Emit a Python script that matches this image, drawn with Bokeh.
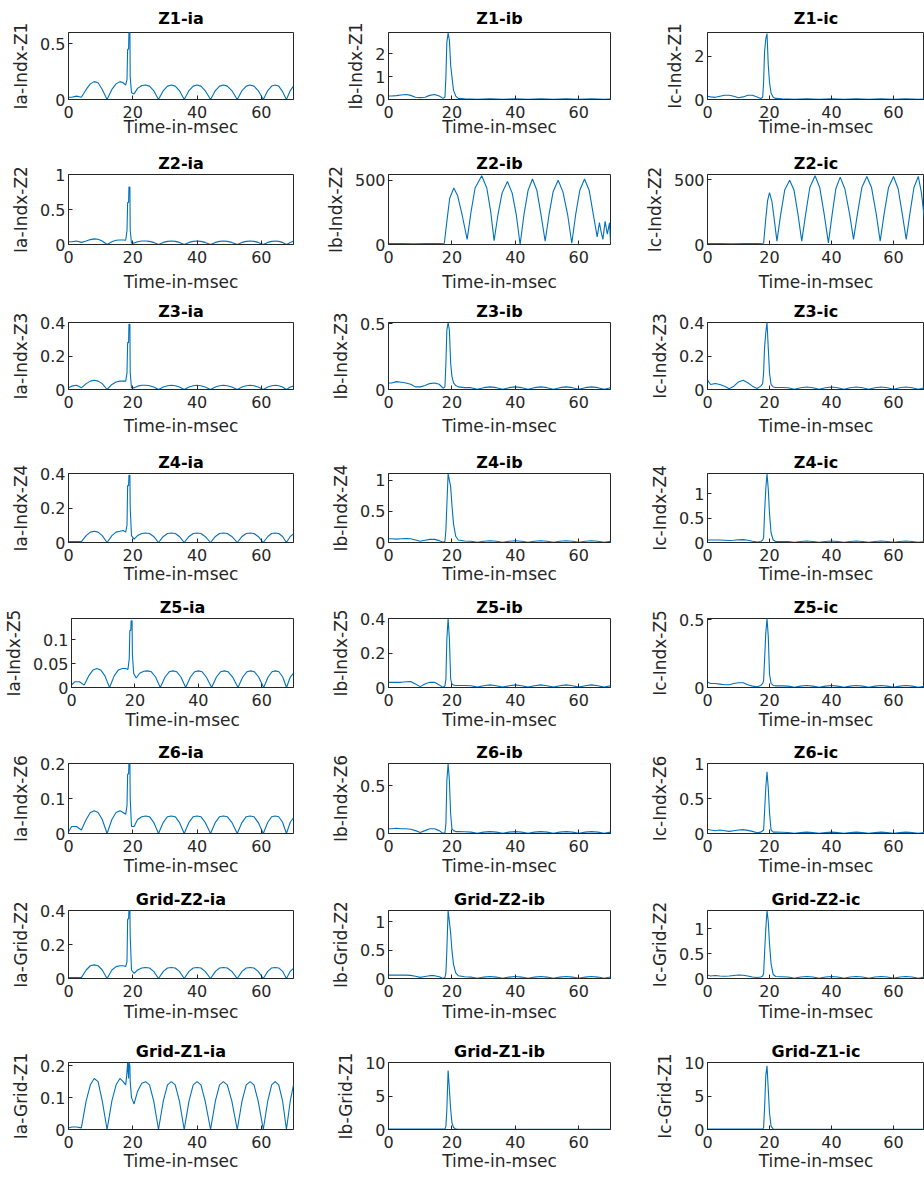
from bokeh.plotting import figure
from bokeh.layouts import column, row
from bokeh.models import Range1d, FixedTicker, CustomJSTickFormatter
from bokeh.embed import file_html
from bokeh.resources import INLINE

FONT = "DejaVu Sans"
LINE = "#0072BD"
AX = "#262626"

X_LABEL = "Time-in-msec"
X_TICKS = [0, 20, 40, 60]
X_MAX = 70

# ---------------- data: column "ia" (shared time base) ----------------
T_IA = [0, 1, 2.5, 4, 5.5, 6.8, 8, 9.2, 10.5, 12,
        13.5, 14.8, 16, 17, 17.8, 18.2, 18.4, 18.7, 18.8, 19.1,
        19.2, 19.6, 20.4, 21.5, 22.8, 24, 25.2, 26.5, 28, 29.5,
        30.8, 32, 33.2, 34.5, 36, 37.5, 38.8, 40, 41.2, 42.5,
        44.2, 45.7, 47, 48.2, 49.4, 50.8, 52.5, 54, 55.3, 56.5,
        57.7, 59, 60.6, 62, 63.2, 64.3, 65.4, 66.6, 67.8, 69,
        70]

Z1_IA = [0.02, 0.02, 0.03, 0.02, 0.09, 0.14, 0.16, 0.15, 0.09, 0.0,
         0.09, 0.14, 0.16, 0.15, 0.13, 0.18, 0.45, 0.45, 0.60, 0.60,
         0.20, 0.06, 0.05, 0.10, 0.125, 0.13, 0.12, 0.08, 0.0, 0.08,
         0.12, 0.13, 0.12, 0.08, 0.0, 0.08, 0.12, 0.13, 0.12, 0.08,
         0.0, 0.08, 0.12, 0.13, 0.12, 0.08, 0.0, 0.08, 0.12, 0.13,
         0.12, 0.08, 0.0, 0.08, 0.12, 0.13, 0.12, 0.07, 0.0, 0.08,
         0.12]
Z2_IA = [0.04, 0.04, 0.05, 0.03, 0.05, 0.07, 0.08, 0.075, 0.05, 0.0,
         0.04, 0.06, 0.065, 0.065, 0.06, 0.20, 0.60, 0.60, 0.82, 0.82,
         0.20, 0.02, 0.02, 0.04, 0.05, 0.05, 0.045, 0.03, 0.0, 0.03,
         0.045, 0.05, 0.045, 0.03, 0.0, 0.03, 0.045, 0.05, 0.045, 0.03,
         0.0, 0.03, 0.045, 0.05, 0.045, 0.03, 0.0, 0.03, 0.045, 0.05,
         0.045, 0.03, 0.0, 0.03, 0.045, 0.05, 0.045, 0.03, 0.0, 0.03,
         0.05]
Z3_IA = [0.01, 0.02, 0.025, 0.01, 0.035, 0.05, 0.055, 0.05, 0.035, 0.0,
         0.03, 0.045, 0.05, 0.05, 0.05, 0.10, 0.28, 0.28, 0.39, 0.39,
         0.10, 0.01, 0.01, 0.02, 0.025, 0.025, 0.022, 0.015, 0.0, 0.015,
         0.022, 0.025, 0.022, 0.015, 0.0, 0.015, 0.022, 0.025, 0.022, 0.015,
         0.0, 0.015, 0.022, 0.025, 0.022, 0.015, 0.0, 0.015, 0.022, 0.025,
         0.022, 0.015, 0.0, 0.015, 0.022, 0.025, 0.022, 0.015, 0.0, 0.015,
         0.02]
Z4_IA = [0.005, 0.005, 0.005, 0.005, 0.04, 0.06, 0.065, 0.06, 0.04, 0.0,
         0.04, 0.06, 0.065, 0.07, 0.06, 0.10, 0.33, 0.33, 0.39, 0.39,
         0.20, 0.04, 0.02, 0.04, 0.052, 0.055, 0.052, 0.035, 0.0, 0.035,
         0.052, 0.055, 0.052, 0.035, 0.0, 0.035, 0.052, 0.055, 0.052, 0.035,
         0.0, 0.035, 0.052, 0.055, 0.052, 0.035, 0.0, 0.035, 0.052, 0.055,
         0.052, 0.035, 0.0, 0.035, 0.052, 0.055, 0.052, 0.035, 0.0, 0.035,
         0.05]
Z5_IA = [0.005, 0.012, 0.012, 0.005, 0.025, 0.037, 0.04, 0.037, 0.025, 0.0,
         0.025, 0.037, 0.04, 0.04, 0.038, 0.06, 0.12, 0.12, 0.14, 0.14,
         0.07, 0.03, 0.02, 0.03, 0.034, 0.035, 0.033, 0.022, 0.0, 0.022,
         0.033, 0.035, 0.033, 0.022, 0.0, 0.022, 0.033, 0.035, 0.033, 0.022,
         0.0, 0.022, 0.033, 0.035, 0.033, 0.022, 0.0, 0.022, 0.033, 0.035,
         0.033, 0.022, 0.0, 0.022, 0.033, 0.035, 0.033, 0.022, 0.0, 0.022,
         0.03]
Z6_IA = [0.005, 0.02, 0.02, 0.01, 0.04, 0.06, 0.065, 0.06, 0.04, 0.0,
         0.04, 0.06, 0.065, 0.06, 0.055, 0.08, 0.17, 0.17, 0.20, 0.20,
         0.10, 0.02, 0.02, 0.04, 0.048, 0.05, 0.048, 0.032, 0.0, 0.032,
         0.048, 0.05, 0.048, 0.032, 0.0, 0.032, 0.048, 0.05, 0.048, 0.032,
         0.0, 0.032, 0.048, 0.05, 0.048, 0.032, 0.0, 0.032, 0.048, 0.05,
         0.048, 0.032, 0.0, 0.032, 0.048, 0.05, 0.048, 0.032, 0.0, 0.032,
         0.045]
GZ2_IA = [0.005, 0.005, 0.005, 0.005, 0.05, 0.075, 0.08, 0.075, 0.05, 0.0,
          0.05, 0.07, 0.075, 0.075, 0.07, 0.10, 0.35, 0.35, 0.40, 0.40,
          0.25, 0.05, 0.03, 0.05, 0.062, 0.065, 0.062, 0.042, 0.0, 0.042,
          0.062, 0.065, 0.062, 0.042, 0.0, 0.042, 0.062, 0.065, 0.062, 0.042,
          0.0, 0.042, 0.062, 0.065, 0.062, 0.042, 0.0, 0.042, 0.062, 0.065,
          0.062, 0.042, 0.0, 0.042, 0.062, 0.065, 0.062, 0.042, 0.0, 0.042,
          0.06]
GZ1_IA = [0.005, 0.008, 0.008, 0.005, 0.09, 0.14, 0.16, 0.15, 0.09, 0.0,
          0.09, 0.14, 0.16, 0.15, 0.14, 0.18, 0.21, 0.16, 0.21, 0.20,
          0.15, 0.10, 0.08, 0.12, 0.145, 0.15, 0.14, 0.09, 0.0, 0.09,
          0.14, 0.15, 0.14, 0.09, 0.0, 0.09, 0.14, 0.15, 0.14, 0.09,
          0.0, 0.09, 0.14, 0.15, 0.14, 0.09, 0.0, 0.09, 0.14, 0.15,
          0.14, 0.09, 0.0, 0.09, 0.14, 0.15, 0.14, 0.09, 0.0, 0.09,
          0.14]

# ---------------- data: "ib"/"ic" small-ripple panels (shared time base) ----------------
T_SM = [0, 1, 2.5, 4, 5.5, 7, 8.5, 10, 11.5, 13,
        14.5, 16, 17.2, 17.8, 18.1, 18.4, 18.8, 19.2, 19.6, 20,
        20.5, 21.2, 22, 24, 26, 28, 30, 32, 34, 36,
        38, 40, 42, 44, 46, 48, 50, 52, 54, 56,
        58, 60, 62, 64, 66, 68, 70]

Z1_IB = [0.15, 0.15, 0.17, 0.20, 0.22, 0.18, 0.10, 0.08, 0.10, 0.18,
         0.22, 0.15, 0.05, 0.10, 1.00, 2.50, 2.90, 2.60, 1.50, 1.00,
         0.40, 0.15, 0.05, 0.03, 0.02, 0.005, 0.02, 0.03, 0.02, 0.005,
         0.02, 0.03, 0.02, 0.005, 0.02, 0.03, 0.02, 0.005, 0.02, 0.03,
         0.02, 0.005, 0.02, 0.03, 0.02, 0.005, 0.02]
Z3_IB = [0.05, 0.05, 0.06, 0.055, 0.05, 0.04, 0.02, 0.02, 0.03, 0.045,
         0.05, 0.04, 0.01, 0.02, 0.20, 0.45, 0.51, 0.45, 0.20, 0.10,
         0.05, 0.03, 0.02, 0.014, 0.014, 0.002, 0.014, 0.02, 0.014, 0.002,
         0.014, 0.02, 0.014, 0.002, 0.014, 0.02, 0.014, 0.002, 0.014, 0.02,
         0.014, 0.002, 0.014, 0.02, 0.014, 0.002, 0.014]
Z4_IB = [0.06, 0.06, 0.055, 0.06, 0.065, 0.06, 0.04, 0.02, 0.035, 0.05,
         0.05, 0.03, 0.005, 0.02, 0.20, 0.60, 1.11, 1.00, 0.90, 0.60,
         0.30, 0.10, 0.04, 0.025, 0.02, 0.003, 0.02, 0.028, 0.02, 0.003,
         0.02, 0.028, 0.02, 0.003, 0.02, 0.028, 0.02, 0.003, 0.02, 0.028,
         0.02, 0.003, 0.02, 0.028, 0.02, 0.003, 0.02]
Z5_IB = [0.03, 0.03, 0.03, 0.03, 0.033, 0.035, 0.02, 0.005, 0.02, 0.03,
         0.03, 0.015, 0.0, 0.01, 0.05, 0.28, 0.40, 0.28, 0.05, 0.02,
         0.015, 0.012, 0.012, 0.012, 0.01, 0.002, 0.01, 0.015, 0.01, 0.002,
         0.01, 0.015, 0.01, 0.002, 0.01, 0.015, 0.01, 0.002, 0.01, 0.015,
         0.01, 0.002, 0.01, 0.015, 0.01, 0.002, 0.01]
Z6_IB = [0.05, 0.05, 0.055, 0.05, 0.05, 0.045, 0.03, 0.01, 0.03, 0.05,
         0.05, 0.03, 0.0, 0.01, 0.10, 0.55, 0.73, 0.55, 0.20, 0.05,
         0.03, 0.02, 0.02, 0.018, 0.014, 0.002, 0.014, 0.02, 0.014, 0.002,
         0.014, 0.02, 0.014, 0.002, 0.014, 0.02, 0.014, 0.002, 0.014, 0.02,
         0.014, 0.002, 0.014, 0.02, 0.014, 0.002, 0.014]
GZ2_IB = [0.06, 0.06, 0.06, 0.06, 0.06, 0.055, 0.04, 0.02, 0.035, 0.05,
          0.05, 0.03, 0.0, 0.02, 0.10, 0.50, 1.20, 1.00, 0.80, 0.50,
          0.25, 0.10, 0.05, 0.03, 0.025, 0.004, 0.025, 0.035, 0.025, 0.004,
          0.025, 0.035, 0.025, 0.004, 0.025, 0.035, 0.025, 0.004, 0.025, 0.035,
          0.025, 0.004, 0.025, 0.035, 0.025, 0.004, 0.025]
GZ1_IB = [0.05, 0.05, 0.05, 0.05, 0.05, 0.05, 0.05, 0.05, 0.05, 0.05,
          0.05, 0.05, 0.05, 0.05, 0.50, 3.00, 8.80, 6.00, 3.00, 1.00,
          0.30, 0.05, 0.02, 0.02, 0.02, 0.02, 0.02, 0.02, 0.02, 0.02,
          0.02, 0.02, 0.02, 0.02, 0.02, 0.02, 0.02, 0.02, 0.02, 0.02,
          0.02, 0.02, 0.02, 0.02, 0.02, 0.02, 0.02]

Z1_IC = [0.15, 0.12, 0.10, 0.15, 0.20, 0.20, 0.15, 0.08, 0.12, 0.20,
         0.20, 0.12, 0.05, 0.10, 0.80, 2.20, 2.80, 3.05, 1.60, 0.80,
         0.30, 0.10, 0.05, 0.03, 0.02, 0.005, 0.02, 0.03, 0.02, 0.005,
         0.02, 0.03, 0.02, 0.005, 0.02, 0.03, 0.02, 0.005, 0.02, 0.03,
         0.02, 0.005, 0.02, 0.03, 0.02, 0.005, 0.02]
Z3_IC = [0.056, 0.03, 0.036, 0.03, 0.02, 0.005, 0.02, 0.045, 0.055, 0.04,
         0.02, 0.006, 0.02, 0.036, 0.10, 0.25, 0.34, 0.40, 0.25, 0.10,
         0.03, 0.015, 0.012, 0.012, 0.01, 0.002, 0.01, 0.015, 0.01, 0.002,
         0.01, 0.015, 0.01, 0.002, 0.01, 0.015, 0.01, 0.002, 0.01, 0.015,
         0.01, 0.002, 0.01, 0.015, 0.01, 0.002, 0.01]
Z4_IC = [0.05, 0.05, 0.05, 0.05, 0.045, 0.04, 0.045, 0.055, 0.06, 0.045,
         0.025, 0.01, 0.02, 0.05, 0.10, 0.60, 1.10, 1.42, 1.10, 0.60,
         0.20, 0.05, 0.02, 0.02, 0.02, 0.003, 0.02, 0.03, 0.02, 0.003,
         0.02, 0.03, 0.02, 0.003, 0.02, 0.03, 0.02, 0.003, 0.02, 0.03,
         0.02, 0.003, 0.02, 0.03, 0.02, 0.003, 0.02]
Z5_IC = [0.04, 0.03, 0.03, 0.025, 0.02, 0.02, 0.03, 0.035, 0.035, 0.02,
         0.01, 0.005, 0.015, 0.03, 0.05, 0.20, 0.40, 0.51, 0.38, 0.10,
         0.03, 0.015, 0.012, 0.012, 0.01, 0.002, 0.01, 0.015, 0.01, 0.002,
         0.01, 0.015, 0.01, 0.002, 0.01, 0.015, 0.01, 0.002, 0.01, 0.015,
         0.01, 0.002, 0.01, 0.015, 0.01, 0.002, 0.01]
Z6_IC = [0.06, 0.05, 0.04, 0.05, 0.04, 0.03, 0.04, 0.05, 0.055, 0.045,
         0.03, 0.01, 0.02, 0.04, 0.05, 0.30, 0.65, 0.88, 0.65, 0.30,
         0.05, 0.02, 0.02, 0.018, 0.014, 0.002, 0.014, 0.02, 0.014, 0.002,
         0.014, 0.02, 0.014, 0.002, 0.014, 0.02, 0.014, 0.002, 0.014, 0.02,
         0.014, 0.002, 0.014, 0.02, 0.014, 0.002, 0.014]
GZ2_IC = [0.07, 0.05, 0.06, 0.05, 0.045, 0.05, 0.06, 0.07, 0.065, 0.05,
          0.03, 0.02, 0.03, 0.05, 0.10, 0.50, 1.00, 1.37, 1.15, 0.70,
          0.30, 0.08, 0.04, 0.035, 0.03, 0.005, 0.03, 0.04, 0.03, 0.005,
          0.03, 0.04, 0.03, 0.005, 0.03, 0.04, 0.03, 0.005, 0.03, 0.04,
          0.03, 0.005, 0.03, 0.04, 0.03, 0.005, 0.03]
GZ1_IC = [0.05, 0.05, 0.05, 0.05, 0.05, 0.05, 0.05, 0.05, 0.05, 0.05,
          0.05, 0.05, 0.05, 0.05, 0.30, 3.00, 8.00, 9.50, 6.00, 2.50,
          0.50, 0.05, 0.02, 0.02, 0.02, 0.02, 0.02, 0.02, 0.02, 0.02,
          0.02, 0.02, 0.02, 0.02, 0.02, 0.02, 0.02, 0.02, 0.02, 0.02,
          0.02, 0.02, 0.02, 0.02, 0.02, 0.02, 0.02]

# ---------------- data: Z2-ib and Z2-ic (large oscillations) ----------------
T_Z2B = [0, 4, 8, 12, 16, 17.6, 18.5, 19.3, 20.6, 21.8, 23.3, 24.8,
         26, 27.3, 29.4, 31, 32.2, 33.3, 34.5, 35.8, 37.5, 39, 40.3, 41.5,
         42.7, 44, 45.4, 46.8, 48.1, 49.4, 50.6, 51.9, 53.5, 55, 56.5, 57.8,
         59, 60.3, 61.8, 63.3, 64.6, 65.8, 66.5, 67.1, 67.6, 68.3, 69, 69.7, 70]
Z2_IB = [8, 8, 5, 8, 8, 10, 200, 360, 440, 380, 220, 40,
         250, 440, 535, 440, 260, 30, 230, 400, 490, 400, 230, 0,
         230, 420, 510, 420, 230, 25, 230, 410, 500, 410, 230, 10,
         230, 420, 510, 420, 230, 60, 170, 90, 40, 180, 80, 170, 20]

T_Z2C = [0, 4, 8, 12, 16, 18.1, 18.8, 19.4, 20, 20.8, 21.6, 22.4,
         23.6, 24.9, 26.5, 27.9, 29.2, 30.4, 31.7, 33, 34.7, 36.2, 37.6, 39,
         40.2, 41.4, 42.8, 44.3, 45.8, 47.1, 48.4, 49.8, 51.4, 52.9, 54.4, 55.7,
         57, 58.4, 60, 61.5, 62.8, 64.1, 65.3, 66.6, 68, 69, 70]
Z2_IC = [8, 8, 6, 8, 8, 10, 200, 340, 400, 330, 180, 26,
         230, 420, 495, 420, 230, 26, 240, 440, 530, 440, 240, 13,
         230, 430, 520, 430, 240, 40, 240, 440, 525, 440, 240, 26,
         240, 440, 525, 430, 240, 40, 240, 440, 525, 400, 190]

# ---------------- panel table (row by row) ----------------
PANELS = [
    [("Z1-ia", "Ia-Indx-Z1", T_IA, Z1_IA, 0.6, [0, 0.5]),
     ("Z1-ib", "Ib-Indx-Z1", T_SM, Z1_IB, 2.93, [0, 1, 2]),
     ("Z1-ic", "Ic-Indx-Z1", T_SM, Z1_IC, 3.1, [0, 2])],
    [("Z2-ia", "Ia-Indx-Z2", T_IA, Z2_IA, 1.0, [0, 0.5, 1]),
     ("Z2-ib", "Ib-Indx-Z2", T_Z2B, Z2_IB, 545, [0, 500]),
     ("Z2-ic", "Ic-Indx-Z2", T_Z2C, Z2_IC, 540, [0, 500])],
    [("Z3-ia", "Ia-Indx-Z3", T_IA, Z3_IA, 0.4, [0, 0.2, 0.4]),
     ("Z3-ib", "Ib-Indx-Z3", T_SM, Z3_IB, 0.51, [0, 0.5]),
     ("Z3-ic", "Ic-Indx-Z3", T_SM, Z3_IC, 0.4, [0, 0.2, 0.4])],
    [("Z4-ia", "Ia-Indx-Z4", T_IA, Z4_IA, 0.4, [0, 0.2, 0.4]),
     ("Z4-ib", "Ib-Indx-Z4", T_SM, Z4_IB, 1.11, [0, 0.5, 1]),
     ("Z4-ic", "Ic-Indx-Z4", T_SM, Z4_IC, 1.42, [0, 0.5, 1])],
    [("Z5-ia", "Ia-Indx-Z5", T_IA, Z5_IA, 0.145, [0, 0.05, 0.1]),
     ("Z5-ib", "Ib-Indx-Z5", T_SM, Z5_IB, 0.4, [0, 0.2, 0.4]),
     ("Z5-ic", "Ic-Indx-Z5", T_SM, Z5_IC, 0.51, [0, 0.5])],
    [("Z6-ia", "Ia-Indx-Z6", T_IA, Z6_IA, 0.2, [0, 0.1, 0.2]),
     ("Z6-ib", "Ib-Indx-Z6", T_SM, Z6_IB, 0.73, [0, 0.5]),
     ("Z6-ic", "Ic-Indx-Z6", T_SM, Z6_IC, 1.0, [0, 0.5, 1])],
    [("Grid-Z2-ia", "Ia-Grid-Z2", T_IA, GZ2_IA, 0.4, [0, 0.2, 0.4]),
     ("Grid-Z2-ib", "Ib-Grid-Z2", T_SM, GZ2_IB, 1.2, [0, 0.5, 1]),
     ("Grid-Z2-ic", "Ic-Grid-Z2", T_SM, GZ2_IC, 1.37, [0, 0.5, 1])],
    [("Grid-Z1-ia", "Ia-Grid-Z1", T_IA, GZ1_IA, 0.21, [0, 0.1, 0.2]),
     ("Grid-Z1-ib", "Ib-Grid-Z1", T_SM, GZ1_IB, 10, [0, 5, 10]),
     ("Grid-Z1-ic", "Ic-Grid-Z1", T_SM, GZ1_IC, 10, [0, 5, 10])],
]

# ---------------- layout geometry (pixels) ----------------
ROW_H = [146, 148, 151, 145, 145, 147, 152, 144]
ROW_TOP = [32, 28, 28, 28, 28, 28, 28, 28]
FRAME_H = [67, 70, 67, 69, 69, 70, 68, 67]
TITLE_STANDOFF = [10, 3, 3, 3, 3, 3, 3, 3]
XLABEL_STANDOFF = [-4, 6, 5, 0, 1, 1, 2, 0]
COL_W = [320, 300, 304]
COL_LEFT = [68, 68, 87]
FRAME_W = [225, 222, 217]

fmt_code = "return String(tick);"


def make_panel(spec, r, c):
    title, ylabel, t, y, ymax, yticks = spec
    p = figure(width=COL_W[c], height=ROW_H[r],
               x_range=Range1d(0, X_MAX), y_range=Range1d(0, ymax),
               output_backend="svg", toolbar_location=None, tools="",
               min_border_left=COL_LEFT[c],
               min_border_right=COL_W[c] - COL_LEFT[c] - FRAME_W[c],
               min_border_top=ROW_TOP[r],
               min_border_bottom=ROW_H[r] - ROW_TOP[r] - FRAME_H[r],
               title=title)
    p.line(t, y, line_color=LINE, line_width=1.1)

    p.title.align = "center"
    p.title.text_font = FONT
    p.title.text_font_size = "16px"
    p.title.text_font_style = "bold"
    p.title.text_color = "#000000"
    p.title.standoff = TITLE_STANDOFF[r]

    p.background_fill_color = "white"
    p.border_fill_color = "white"
    p.outline_line_color = AX
    p.outline_line_width = 1
    p.outline_line_alpha = 1
    p.xgrid.visible = False
    p.ygrid.visible = False

    p.xaxis.ticker = FixedTicker(ticks=X_TICKS)
    p.yaxis.ticker = FixedTicker(ticks=yticks)
    p.xaxis.formatter = CustomJSTickFormatter(code=fmt_code)
    p.yaxis.formatter = CustomJSTickFormatter(code=fmt_code)
    p.xaxis.axis_label = X_LABEL
    p.yaxis.axis_label = ylabel

    for ax in (p.xaxis[0], p.yaxis[0]):
        ax.axis_line_color = AX
        ax.major_tick_line_color = AX
        ax.major_tick_in = 4
        ax.major_tick_out = 0
        ax.minor_tick_line_color = None
        ax.major_label_text_font = FONT
        ax.major_label_text_font_size = "16px"
        ax.major_label_text_color = AX
        ax.axis_label_text_font = FONT
        ax.axis_label_text_font_size = "17px"
        ax.axis_label_text_font_style = "normal"
        ax.axis_label_text_color = AX
    p.xaxis.major_label_standoff = 6
    p.xaxis.axis_label_standoff = XLABEL_STANDOFF[r]
    p.yaxis.major_label_standoff = 3
    p.yaxis.axis_label_standoff = 6
    return p


rows = []
for r, row_specs in enumerate(PANELS):
    figs = [make_panel(spec, r, c) for c, spec in enumerate(row_specs)]
    rows.append(row(*figs))

layout = column(*rows)

open("out.html", "w").write(file_html(layout, INLINE))
